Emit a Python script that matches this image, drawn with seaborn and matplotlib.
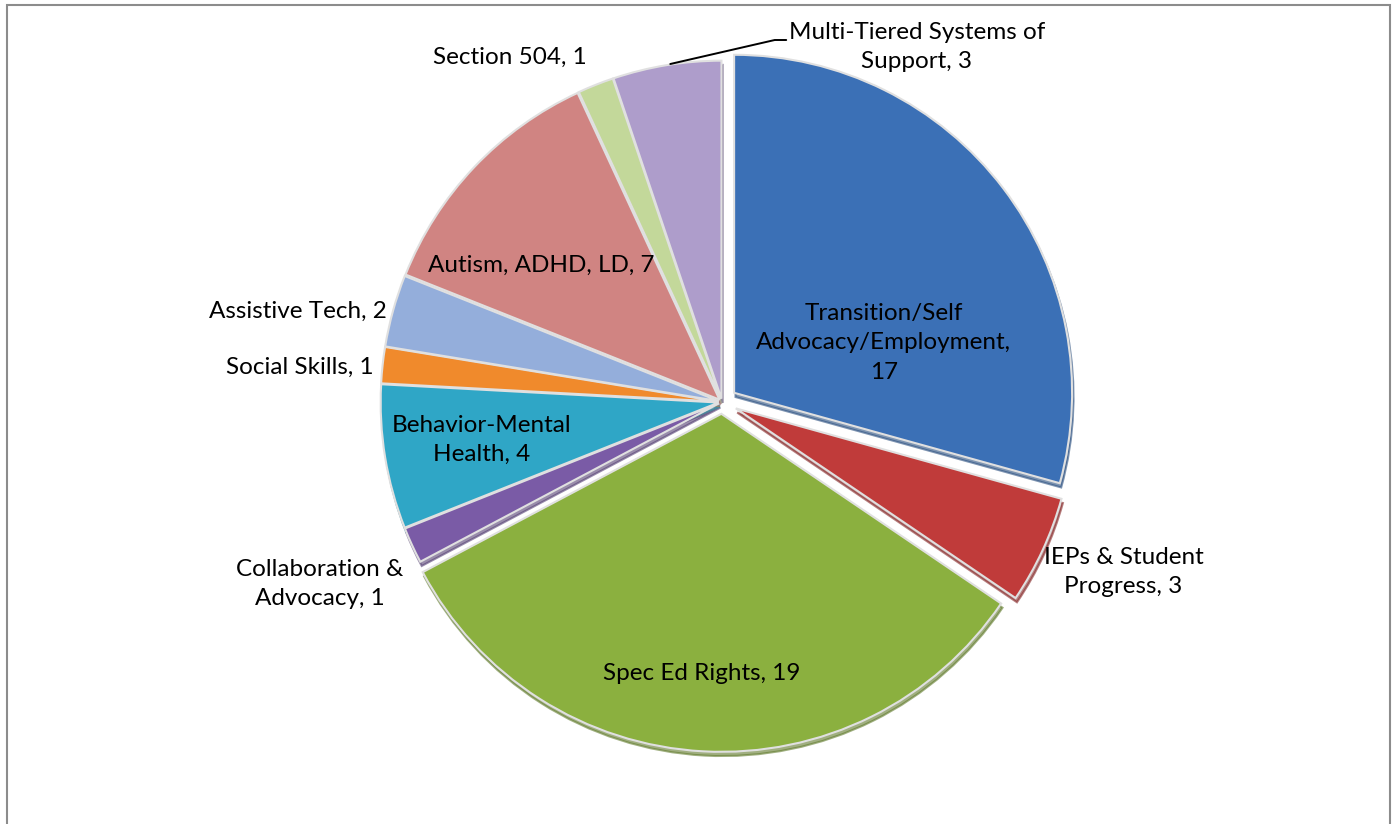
import numpy as np
import matplotlib.pyplot as plt
import seaborn as sns
from matplotlib.patches import Rectangle

# slices, clockwise from 12 o'clock
categories = [
    "Transition/Self\nAdvocacy/Employment,\n17",
    "IEPs & Student\nProgress, 3",
    "Spec Ed Rights, 19",
    "Collaboration &\nAdvocacy, 1",
    "Behavior-Mental\nHealth, 4",
    "Social Skills, 1",
    "Assistive Tech, 2",
    "Autism, ADHD, LD, 7",
    "Section 504, 1",
    "Multi-Tiered Systems of\nSupport, 3",
]
counts = [17, 3, 19, 1, 4, 1, 2, 7, 1, 3]

colors = ["#3b70b6", "#c03b3a", "#8bb03f", "#7a5ba6", "#2fa6c6",
          "#f08a2c", "#94aedb", "#d08482", "#c3d89a", "#ae9dcb"]
explode = [0.045, 0.045, 0.035, 0.01, 0.01, 0.01, 0.01, 0.01, 0.01, 0.01]

# label positions (data units, pie radius = 1)
label_xy = [(0.479, 0.176), (1.188, -0.503), (-0.059, -0.803), (-1.191, -0.538),
            (-0.712, -0.112), (-1.25, 0.103), (-1.256, 0.268), (-0.535, 0.403),
            (-0.629, 1.021), (0.576, 1.05)]

sns.set_style("white")
plt.rcParams['font.family'] = ['Lato', 'DejaVu Sans']

fig = plt.figure(figsize=(13.97, 8.24), dpi=100)
R = 338.0
cx, cy = 722.0, 824 - 402.0
half = 1.12 * R
ax = fig.add_axes([(cx - half) / 1397, (cy - half) / 824, 2 * half / 1397, 2 * half / 824])

wedges, _ = ax.pie(
    counts,
    colors=colors,
    explode=explode,
    startangle=90,
    counterclock=False,
    radius=1.0,
    wedgeprops=dict(edgecolor="#e0e0e0", linewidth=1.5),
    shadow={'ox': 0.003, 'oy': -0.009, 'shade': 0.3, 'alpha': 0.6},
)

for (x, y), lab in zip(label_xy, categories):
    ax.text(x, y, lab, ha="center", va="center", fontsize=17.5, color="black",
            linespacing=1.5)

# leader line for the MTSS label
ax.plot([-0.153, 0.156, 0.19], [1.0, 1.071, 1.071], color="black", lw=1.4,
        clip_on=False)

ax.set_xlim(-1.12, 1.12)
ax.set_ylim(-1.12, 1.12)
ax.set_aspect("equal")
ax.axis("off")

# chart frame
fig.patches.append(Rectangle((7 / 1397, -0.05), 1383 / 1397, (819 / 824) + 0.05,
                             transform=fig.transFigure, fill=False,
                             edgecolor="#8c8c8c", lw=1.5))

fig.savefig("out.png", dpi=100)
